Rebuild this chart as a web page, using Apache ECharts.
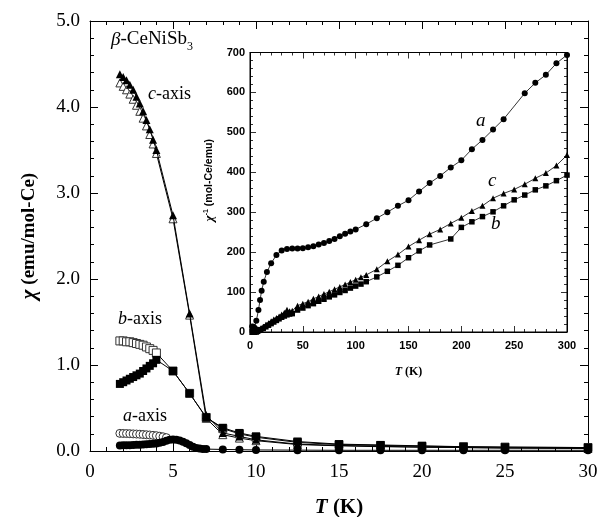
<!DOCTYPE html>
<html>
<head>
<meta charset="utf-8">
<script src="https://cdn.jsdelivr.net/npm/echarts@6/dist/echarts.min.js"></script>
<style>
  html, body { margin: 0; padding: 0; background: #fff; }
  #chart { width: 600px; height: 517px; }
</style>
</head>
<body>
<div id="chart"></div>
<script>
// ---- main panel data: chi (emu/mol-Ce) vs T (K) ----
var tLow = [1.8, 2.0, 2.2, 2.4, 2.6, 2.8, 3.0, 3.2, 3.4, 3.6, 3.8, 4.0];
var tHigh = [5, 6, 7, 8, 9, 10, 12.5, 15, 17.5, 20, 22.5, 25, 30];

var cFilledLow = [4.38, 4.35, 4.31, 4.26, 4.20, 4.12, 4.04, 3.95, 3.85, 3.74, 3.62, 3.50];
var cFilledHigh = [2.74, 1.60, 0.42, 0.21, 0.17, 0.13, 0.08, 0.065, 0.055, 0.045, 0.04, 0.035, 0.03];
var cOpenLow = [4.28, 4.24, 4.20, 4.15, 4.09, 4.02, 3.95, 3.87, 3.78, 3.68, 3.57, 3.46];
var cOpenHigh = [2.70, 1.58, 0.38, 0.19, 0.15, 0.12, 0.075, 0.06, 0.05, 0.045, 0.04, 0.035, 0.03];

var bFilledLow = [0.78, 0.80, 0.82, 0.84, 0.86, 0.88, 0.90, 0.93, 0.96, 0.99, 1.02, 1.06];
var bFilledHigh = [0.93, 0.67, 0.39, 0.27, 0.21, 0.17, 0.11, 0.08, 0.07, 0.06, 0.05, 0.045, 0.04];
var bOpenLow = [1.28, 1.28, 1.27, 1.27, 1.26, 1.25, 1.24, 1.23, 1.21, 1.19, 1.17, 1.14];
var bOpenHigh = [0.93, 0.67, 0.39, 0.26, 0.20, 0.16, 0.10, 0.075, 0.065, 0.055, 0.05, 0.045, 0.04];

var tA = [1.8, 2.0, 2.2, 2.4, 2.6, 2.8, 3.0, 3.2, 3.4, 3.6, 3.8, 4.0, 4.2, 4.4,
          4.6, 4.8, 5.0, 5.2, 5.4, 5.6, 5.8, 6.0, 6.2, 6.4, 6.6, 6.8, 7.0,
          8, 9, 10, 12.5, 15, 17.5, 20, 22.5, 25, 30];
var aFilled = [0.065, 0.066, 0.067, 0.068, 0.070, 0.072, 0.074, 0.076, 0.078, 0.080, 0.083, 0.088, 0.095, 0.105,
               0.118, 0.130, 0.135, 0.132, 0.122, 0.108, 0.090, 0.070, 0.050, 0.036, 0.028, 0.024, 0.022,
               0.018, 0.015, 0.012, 0.010, 0.008, 0.008, 0.008, 0.008, 0.008, 0.008];
var tAOpen = [1.8, 2.0, 2.2, 2.4, 2.6, 2.8, 3.0, 3.2, 3.4, 3.6, 3.8, 4.0, 4.2, 4.4, 4.6];
var aOpen = [0.205, 0.204, 0.203, 0.201, 0.199, 0.197, 0.195, 0.192, 0.189, 0.186, 0.182, 0.178, 0.172, 0.165, 0.155];

// ---- inset data: 1/chi (mol-Ce/emu) vs T (K) ----
var insetTa = [2, 3, 4, 5, 6, 8, 9.5, 11, 13, 16, 20, 25, 30, 35, 40, 45, 50, 55, 60, 65, 70, 75, 80, 85, 90, 95, 100,
               110, 120, 130, 140, 150, 160, 170, 180, 190, 200, 210, 220, 230, 240, 260, 270, 280, 290, 300];
var insetA = [14, 13, 11, 8, 28, 55, 80, 103, 126, 150, 172, 193, 204, 208, 209, 209, 210, 212, 215, 219, 223, 228, 233, 240, 246, 252, 257,
              270, 285, 300, 316, 330, 352, 373, 391, 412, 430, 458, 481, 507, 533, 598, 624, 644, 673, 694];

var insetTc = [2, 4, 6, 7, 8, 10, 12.5, 15, 17.5, 20, 22.5, 25, 27.5, 30, 32.5, 35, 37.5, 40, 45, 50, 55, 60, 65, 70, 75, 80, 85, 90, 95, 100,
               105, 110, 120, 130, 140, 150, 160, 170, 180, 190, 200, 210, 220, 230, 240, 250, 260, 270, 280, 290, 300];
var insetC = [0.2, 0.3, 0.6, 2.4, 5, 8, 13, 18, 22, 27, 31, 35, 39, 44, 48, 56, 52, 53, 66, 71, 76, 83, 89, 95, 101, 107, 113, 119, 125, 131,
              137, 143, 157, 177, 194, 214, 230, 245, 257, 272, 286, 303, 316, 335, 347, 357, 370, 385, 398, 417, 443];

var insetTb = [2, 4, 5, 6, 7, 8, 9, 10, 12.5, 15, 17.5, 20, 22.5, 25, 27.5, 30, 32.5, 35, 37.5, 40, 45, 50, 55, 60, 65, 70, 75, 80, 85, 90, 95, 100,
               105, 110, 120, 130, 140, 150, 160, 170, 190, 200, 210, 220, 230, 240, 250, 260, 270, 280, 290, 300];
var insetB = [1.3, 0.95, 1.07, 1.5, 2.6, 3.7, 4.8, 5.9, 9, 13, 17, 21, 25, 29, 33, 37, 40, 43, 45, 46, 55, 60, 66, 71, 77, 82, 88, 93, 99, 104, 110, 115,
              120, 126, 138, 152, 167, 186, 203, 218, 233, 262, 276, 289, 301, 316, 331, 343, 356, 366, 379, 393];

function pairs(xs, ys) {
    return xs.map(function (x, i) { return [x, ys[i]]; });
}

var serif = 'Liberation Serif';
var sans = 'Liberation Sans';

function mainSeries(name, xs, ys, symbol, filled, z) {
    return {
        name: name, type: 'line', xAxisIndex: 0, yAxisIndex: 0,
        data: pairs(xs, ys), symbol: symbol, symbolSize: 8, z: z,
        lineStyle: { color: '#000', width: 1 },
        itemStyle: filled ? { color: '#000' } : { color: '#fff', borderColor: '#333', borderWidth: 1 }
    };
}
function insetSeries(name, xs, ys, symbol, size) {
    return {
        name: name, type: 'line', xAxisIndex: 2, yAxisIndex: 2,
        data: pairs(xs, ys), symbol: symbol, symbolSize: size, z: 20,
        lineStyle: { color: '#000', width: 0.8 },
        itemStyle: { color: '#000' }
    };
}
function italicLabel(txt, left, top) {
    return { type: 'text', left: left, top: top, z: 30, style: {
        text: txt, fontFamily: serif, fontSize: 18, fill: '#000',
        rich: { i: { fontFamily: serif, fontSize: 18, fontStyle: 'italic' } } } };
}

var mainTick = { show: true, inside: true, length: 8, lineStyle: { color: '#000' } };
var mainMinor = { show: true, splitNumber: 5, length: 4, lineStyle: { color: '#000' } };
var insetTick = { show: true, inside: true, length: 6, lineStyle: { color: '#000', width: 0.8 } };
var insetMinor = { show: true, splitNumber: 5, length: 3, lineStyle: { color: '#000', width: 0.8 } };
var axisLine = { show: true, onZero: false, lineStyle: { color: '#000', width: 1 } };

var option = {
    animation: false,
    backgroundColor: '#fff',
    grid: [
        { left: 90, top: 21, width: 498, height: 430, outerBoundsMode: 'none' },
        { left: 250, top: 52.5, width: 317, height: 279.5, outerBoundsMode: 'none',
          show: true, backgroundColor: '#fff', borderColor: '#000', borderWidth: 1, z: 10 }
    ],
    xAxis: [
        { type: 'value', gridIndex: 0, min: 0, max: 30, interval: 5, axisLine: axisLine, axisTick: mainTick, minorTick: mainMinor,
          splitLine: { show: false },
          axisLabel: { fontFamily: serif, fontSize: 19, color: '#000', margin: 12 },
          name: '{i|T} (K)', nameLocation: 'middle', nameGap: 46,
          nameTextStyle: { fontFamily: serif, fontSize: 21, fontWeight: 'bold', color: '#000',
              rich: { i: { fontFamily: serif, fontSize: 21, fontWeight: 'bold', fontStyle: 'italic' } } } },
        { type: 'value', gridIndex: 0, position: 'top', min: 0, max: 30, interval: 5, axisLine: axisLine, axisTick: mainTick,
          minorTick: mainMinor, splitLine: { show: false }, axisLabel: { show: false } },
        { type: 'value', gridIndex: 1, min: 0, max: 300, interval: 50, axisLine: axisLine, axisTick: insetTick, minorTick: insetMinor,
          splitLine: { show: false }, z: 15,
          axisLabel: { fontFamily: sans, fontSize: 11, fontWeight: 'bold', color: '#000', margin: 8 },
          name: '{i|T} (K)', nameLocation: 'middle', nameGap: 34,
          nameTextStyle: { fontFamily: serif, fontSize: 12, fontWeight: 'bold', color: '#000',
              rich: { i: { fontFamily: serif, fontSize: 12, fontWeight: 'bold', fontStyle: 'italic' } } } },
        { type: 'value', gridIndex: 1, position: 'top', min: 0, max: 300, interval: 50, axisLine: axisLine, axisTick: insetTick,
          minorTick: insetMinor, splitLine: { show: false }, axisLabel: { show: false }, z: 15 }
    ],
    yAxis: [
        { type: 'value', gridIndex: 0, min: 0, max: 5, interval: 1, axisLine: axisLine, axisTick: mainTick, minorTick: mainMinor,
          splitLine: { show: false },
          axisLabel: { fontFamily: serif, fontSize: 19, color: '#000', margin: 10,
              formatter: function (v) { return v.toFixed(1); } },
          name: '{i|χ} (emu/mol-Ce)', nameLocation: 'middle', nameGap: 50,
          nameTextStyle: { fontFamily: serif, fontSize: 19, fontWeight: 'bold', color: '#000',
              rich: { i: { fontFamily: serif, fontSize: 21, fontWeight: 'bold', fontStyle: 'italic' } } } },
        { type: 'value', gridIndex: 0, position: 'right', min: 0, max: 5, interval: 1, axisLine: axisLine, axisTick: mainTick,
          minorTick: mainMinor, splitLine: { show: false }, axisLabel: { show: false } },
        { type: 'value', gridIndex: 1, min: 0, max: 700, interval: 100, axisLine: axisLine, axisTick: insetTick, minorTick: insetMinor,
          splitLine: { show: false }, z: 15,
          axisLabel: { fontFamily: sans, fontSize: 11, fontWeight: 'bold', color: '#000', margin: 5 },
          name: '{i|χ}{s|-1} (mol-Ce/emu)', nameLocation: 'middle', nameGap: 28,
          nameTextStyle: { fontFamily: sans, fontSize: 10.5, fontWeight: 'bold', color: '#000', padding: [0, 0, 0, 24],
              rich: { i: { fontFamily: serif, fontSize: 13, fontWeight: 'bold', fontStyle: 'italic' },
                      s: { fontFamily: sans, fontSize: 7, fontWeight: 'bold', verticalAlign: 'top', lineHeight: 14 } } } },
        { type: 'value', gridIndex: 1, position: 'right', min: 0, max: 700, interval: 100, axisLine: axisLine, axisTick: insetTick,
          minorTick: insetMinor, splitLine: { show: false }, axisLabel: { show: false }, z: 15 }
    ],
    graphic: [
        { type: 'text', left: 111, top: 30, z: 30, style: {
            text: '{i|β}-CeNiSb{s|3}', fontFamily: serif, fontSize: 19, fill: '#000',
            rich: { i: { fontFamily: serif, fontSize: 19, fontStyle: 'italic' },
                    s: { fontFamily: serif, fontSize: 12, verticalAlign: 'bottom', lineHeight: 12, padding: [0, 0, -4, 0] } } } },
        italicLabel('{i|c}-axis', 148, 85),
        italicLabel('{i|b}-axis', 118, 310),
        italicLabel('{i|a}-axis', 123, 407),
        { type: 'text', left: 476, top: 111, z: 30, style: { text: 'a', fontFamily: serif, fontSize: 19, fontStyle: 'italic', fill: '#000' } },
        { type: 'text', left: 488, top: 171, z: 30, style: { text: 'c', fontFamily: serif, fontSize: 19, fontStyle: 'italic', fill: '#000' } },
        { type: 'text', left: 491, top: 214, z: 30, style: { text: 'b', fontFamily: serif, fontSize: 19, fontStyle: 'italic', fill: '#000' } }
    ],
    series: [
        mainSeries('c open', tLow.concat(tHigh), cOpenLow.concat(cOpenHigh), 'triangle', false, 2),
        mainSeries('c filled', tLow.concat(tHigh), cFilledLow.concat(cFilledHigh), 'triangle', true, 3),
        mainSeries('b open', tLow.concat(tHigh), bOpenLow.concat(bOpenHigh), 'rect', false, 2),
        mainSeries('b filled', tLow.concat(tHigh), bFilledLow.concat(bFilledHigh), 'rect', true, 3),
        mainSeries('a open', tAOpen, aOpen, 'circle', false, 2),
        mainSeries('a filled', tA, aFilled, 'circle', true, 3),
        insetSeries('a inset', insetTa, insetA, 'circle', 6),
        insetSeries('c inset', insetTc, insetC, 'triangle', 6),
        insetSeries('b inset', insetTb, insetB, 'rect', 5.5)
    ]
};

echarts.init(document.getElementById('chart')).setOption(option);
</script>
</body>
</html>
